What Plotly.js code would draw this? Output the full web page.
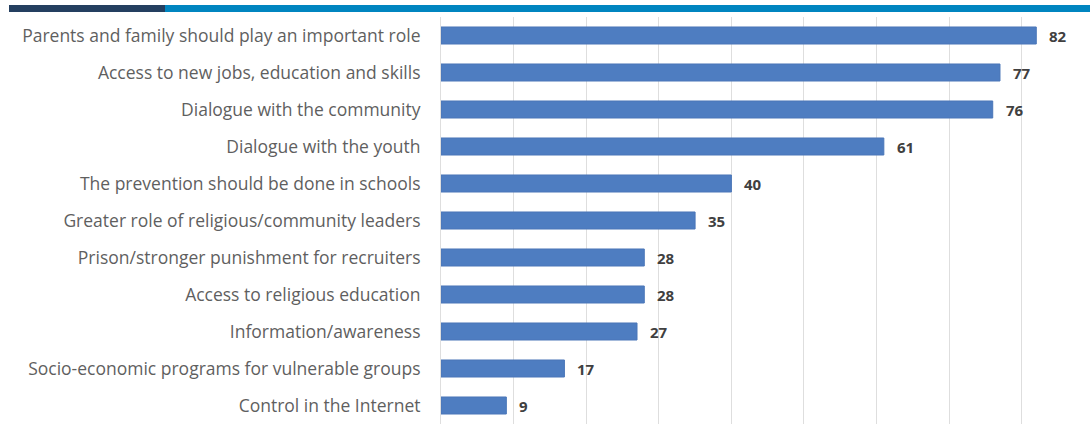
<!DOCTYPE html>
<html>
<head>
<meta charset="utf-8">
<script src="https://cdn.plot.ly/plotly-3.0.1.min.js"></script>
<style>
  html, body { margin: 0; padding: 0; background: #fff; }
  #wrap { position: relative; width: 1090px; height: 431px; }
  #chart { width: 1090px; height: 431px; }
  .band { position: absolute; top: 5px; height: 7px; }
</style>
</head>
<body>
<div id="wrap">
  <div id="chart"></div>
  <div class="band" style="left:9px;width:156px;background:#243f60;"></div>
  <div class="band" style="left:165px;width:925px;background:#0085c0;"></div>
</div>
<script>
const categories = [
  "Parents and family should play an important role",
  "Access to new jobs, education and skills",
  "Dialogue with the community",
  "Dialogue with the youth",
  "The prevention should be done in schools",
  "Greater role of religious/community leaders",
  "Prison/stronger punishment for recruiters",
  "Access to religious education",
  "Information/awareness",
  "Socio-economic programs for vulnerable groups",
  "Control in the Internet"
];
const values = [82, 77, 76, 61, 40, 35, 28, 28, 27, 17, 9];

const trace = {
  type: 'bar',
  orientation: 'h',
  y: categories,
  x: values,
  marker: { color: '#4e7dc1', line: { color: '#4a76b8', width: 1 } },
  width: 0.46,
  hoverinfo: 'x+y'
};

const annotations = categories.map((c, i) => ({
  x: values[i], y: c, xref: 'x', yref: 'y',
  text: String(values[i]),
  showarrow: false, xanchor: 'left', yanchor: 'middle', xshift: 11,
  font: { family: 'Open Sans, sans-serif', size: 15, color: '#404040', weight: 'bold' }
}));

const layout = {
  width: 1090, height: 431,
  margin: { l: 441, r: 0, t: 16.5, b: 6.5 },
  paper_bgcolor: '#ffffff', plot_bgcolor: '#ffffff',
  showlegend: false,
  bargap: 0.54,
  xaxis: {
    range: [0, 89.4], dtick: 10, tick0: 0,
    showgrid: true, gridcolor: '#dedede', gridwidth: 1,
    zeroline: false, showticklabels: false, ticks: '', fixedrange: true
  },
  yaxis: {
    type: 'category',
    autorange: 'reversed',
    showgrid: false, zeroline: false, ticks: '',
    showline: true, linecolor: '#dedede', linewidth: 1,
    ticklabelstandoff: 16,
    tickfont: { family: 'Open Sans, sans-serif', size: 17.5, color: '#5f5f5f' },
    fixedrange: true
  },
  annotations: annotations
};

Plotly.newPlot('chart', [trace], layout, { displayModeBar: false, staticPlot: true });
</script>
</body>
</html>
